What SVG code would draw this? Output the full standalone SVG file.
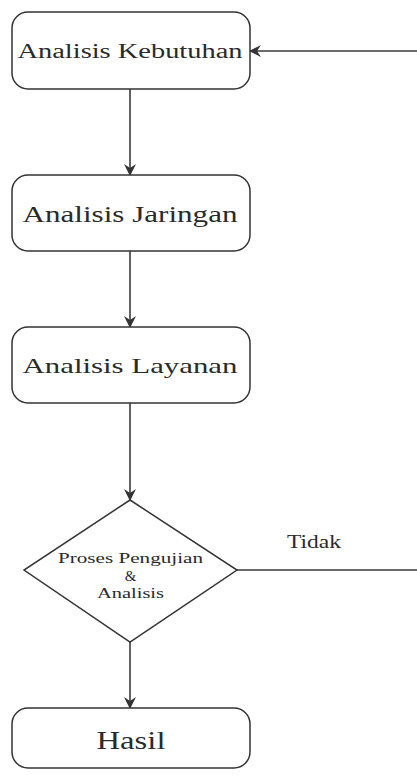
<svg xmlns="http://www.w3.org/2000/svg" width="417" height="778" viewBox="0 0 417 778">
<style>
.box{fill:#fff;stroke:#333;stroke-width:1.5}
.t{font-family:"Liberation Serif","Times New Roman",serif;fill:#2a2a2a;text-anchor:middle}
.c{fill:none;stroke:#3a3a3a;stroke-width:1.6}
</style>
<defs>
<marker id="ah" viewBox="0 0 12 12" refX="11" refY="6" markerWidth="12" markerHeight="12" markerUnits="userSpaceOnUse" orient="auto">
<path d="M0,0 L12,6 L0,12 L4,6 Z" fill="#333"/>
</marker>
</defs>
<rect width="417" height="778" fill="#fff"/>
<g id="connectors">
<line class="c" x1="130" y1="89" x2="130" y2="175" marker-end="url(#ah)"/>
<line class="c" x1="130" y1="251" x2="130" y2="327" marker-end="url(#ah)"/>
<line class="c" x1="130" y1="403" x2="130" y2="500" marker-end="url(#ah)"/>
<line class="c" x1="130" y1="642" x2="130" y2="708" marker-end="url(#ah)"/>
<polyline class="c" points="237,570 417,570"/>
<line class="c" x1="417" y1="51" x2="250" y2="51" marker-end="url(#ah)"/>
<text class="t" x="314" y="548" font-size="19" textLength="54" lengthAdjust="spacingAndGlyphs">Tidak</text>
</g>
<g id="n1">
<rect class="box" x="12" y="12" width="238" height="77" rx="16"/>
<text class="t" x="130" y="58" font-size="20" textLength="225" lengthAdjust="spacingAndGlyphs">Analisis Kebutuhan</text>
</g>
<g id="n2">
<rect class="box" x="12" y="175" width="238" height="76" rx="16"/>
<text class="t" x="130" y="222" font-size="23" textLength="215" lengthAdjust="spacingAndGlyphs">Analisis Jaringan</text>
</g>
<g id="n3">
<rect class="box" x="12" y="327" width="238" height="76" rx="16"/>
<text class="t" x="130" y="373" font-size="22" textLength="215" lengthAdjust="spacingAndGlyphs">Analisis Layanan</text>
</g>
<g id="n4">
<polygon class="box" points="130,500 237,570 130,642 24,570"/>
<text class="t" x="130.5" y="563" font-size="15" textLength="145" lengthAdjust="spacingAndGlyphs">Proses Pengujian</text>
<text class="t" x="130.5" y="581" font-size="15">&amp;</text>
<text class="t" x="130.5" y="598" font-size="15" textLength="67" lengthAdjust="spacingAndGlyphs">Analisis</text>
</g>
<g id="n5">
<rect class="box" x="12" y="708" width="238" height="60" rx="16"/>
<text class="t" x="131" y="749" font-size="26" textLength="69" lengthAdjust="spacingAndGlyphs">Hasil</text>
</g>
</svg>
